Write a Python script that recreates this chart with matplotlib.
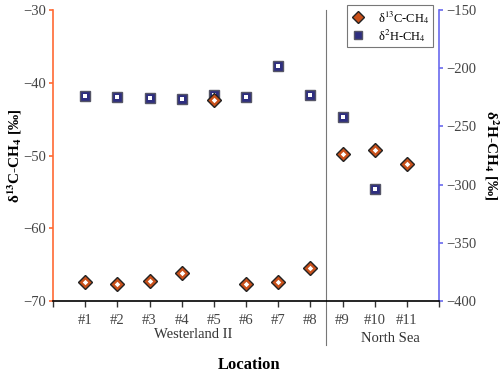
import matplotlib
matplotlib.use("Agg")
import matplotlib.pyplot as plt
from matplotlib.lines import Line2D

plt.rcParams['font.family'] = ['Liberation Serif', 'DejaVu Serif']
plt.rcParams['mathtext.fontset'] = 'stix'

locations = ["#1", "#2", "#3", "#4", "#5", "#6", "#7", "#8", "#9", "#10", "#11"]
d13c = [-67.35, -67.6, -67.2, -66.1, -42.4, -67.6, -67.35, -65.5, -49.8, -49.3, -51.2]
d2h = [-223.9, -224.7, -225.9, -226.2, -222.7, -225.0, -198.4, -223.3, -241.6, -304.0, None]
groups = ["Westerland II", "North Sea"]

orange = "#ff6a33"
blue = "#6a6aee"
c_fill = "#c8501a"
h_fill = "#2e2e80"

fig = plt.figure(figsize=(5.0, 3.74), dpi=100)
ax = fig.add_axes([0.106, 0.195, 0.772, 0.778])
ax2 = ax.twinx()

xs = list(range(1, len(locations) + 1))

# δ2H squares
hx = [x for x, v in zip(xs, d2h) if v is not None]
hy = [v for v in d2h if v is not None]
ax2.plot(hx, hy, ls='none', marker='s', ms=7.5, mfc=h_fill, mec='#555566', mew=1.0, zorder=3)
ax2.plot(hx, hy, ls='none', marker='s', ms=2.4, mfc='white', mec='white', mew=0, zorder=4)

# δ13C diamonds (on top)
ax.set_zorder(ax2.get_zorder() + 1)
ax.patch.set_visible(False)
ax.plot(xs, d13c, ls='none', marker='D', ms=7.5, mfc=c_fill, mec='#222222', mew=1.0, zorder=3)
ax.plot(xs, d13c, ls='none', marker='D', ms=2.8, mfc='white', mec='white', mew=0, zorder=4)

ax.set_xlim(0, 12)
ax.set_ylim(-70, -30)
ax2.set_ylim(-400, -150)
ax.set_xticks([0] + xs + [12])
ax.set_xticklabels([""] + locations + [""])
ax.set_yticks([-70, -60, -50, -40, -30])
ax2.set_yticks([-400, -350, -300, -250, -200, -150])

for a in (ax, ax2):
    a.spines['top'].set_visible(False)
ax.spines['left'].set_color(orange)
ax.spines['left'].set_linewidth(1.2)
ax.spines['right'].set_visible(False)
ax2.spines['left'].set_visible(False)
ax2.spines['bottom'].set_visible(False)
ax2.spines['right'].set_color(blue)
ax2.spines['right'].set_linewidth(1.2)
ax.spines['bottom'].set_linewidth(1.2)

ax.tick_params(axis='y', colors=orange, labelcolor='#444444', labelsize=10.5, length=3, width=1.2, pad=2)
ax2.tick_params(axis='y', colors=blue, labelcolor='#444444', labelsize=10.5, length=3, width=1.2, pad=2)
ax.tick_params(axis='x', colors='#333333', labelcolor='#444444', labelsize=10.5, length=4, width=1.0, pad=5)

ax.set_ylabel(r"δ$^{\mathbf{13}}$C-CH$_{\mathbf{4}}$ [‰]", fontsize=11, fontweight='bold', va='center')
ax.yaxis.set_label_coords(-0.098, 0.5)
ax2.set_ylabel(r"δ$^{\mathbf{2}}$H-CH$_{\mathbf{4}}$ [‰]", fontsize=11, fontweight='bold', rotation=270, va='center')
ax2.yaxis.set_label_coords(1.135, 0.5)

# separator line
ax.plot([8.5, 8.5], [-30, -76.0], color='#777777', lw=0.8, clip_on=False, zorder=1)

ax.text(4.35, -74.6, groups[0], ha='center', va='center', fontsize=10.5, color='#333333')
ax.text(10.5, -75.2, groups[1], ha='center', va='center', fontsize=10.5, color='#333333')
ax.text(6.1, -78.8, "Location", ha='center', va='center', fontsize=12, fontweight='bold')

handles = [
    Line2D([], [], ls='none', marker='D', ms=6, mfc=c_fill, mec='#222222', mew=1.0),
    Line2D([], [], ls='none', marker='s', ms=6, mfc=h_fill, mec='#555566', mew=1.0),
]
leg = ax.legend(handles, [r"δ$^{13}$C-CH$_4$", r"δ$^{2}$H-CH$_4$"], loc='upper right',
                bbox_to_anchor=(0.985, 1.018), borderaxespad=0, fontsize=9, frameon=True, fancybox=False,
                edgecolor='#555555', borderpad=0.3, handletextpad=1.0, labelspacing=0.1,
                handlelength=1.2)
leg.get_frame().set_linewidth(0.8)

fig.savefig("out.png", dpi=100)
